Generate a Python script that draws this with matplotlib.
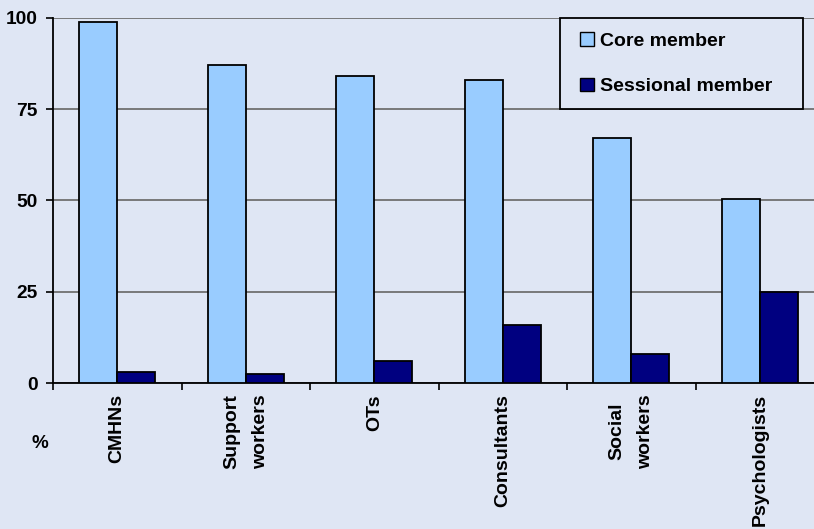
import numpy as np
import matplotlib.pyplot as plt
from matplotlib.patches import Patch, Rectangle

plt.rcParams['font.family'] = ['Liberation Sans', 'DejaVu Sans']

categories = ['CMHNs', 'Support\nworkers', 'OTs', 'Consultants', 'Social\nworkers', 'Psychologists']
core = [99, 87, 84, 83, 67, 50.5]
sessional = [3, 2.5, 6, 16, 8, 25]
yticks = [0, 25, 50, 75, 100]

bg = '#DFE6F4'
core_col = '#99CCFF'
sess_col = '#000080'

fig = plt.figure(figsize=(8.14, 5.29), dpi=100, facecolor=bg)
ax = fig.add_axes([53/814, 146/529, 771/814, 365/529])
ax.set_facecolor(bg)

x = np.arange(len(categories))
w = 0.295
ax.bar(x - w/2, core, w, color=core_col, edgecolor='black', linewidth=1.3, zorder=3)
ax.bar(x + w/2, sessional, w, color=sess_col, edgecolor='black', linewidth=1.3, zorder=3)

ax.set_xlim(-0.5, len(categories) - 0.5)
ax.set_ylim(0, 100)

ax.set_yticks(yticks)
ax.set_yticklabels([str(v) for v in yticks], fontsize=13.8, fontweight='bold')
ax.tick_params(axis='y', length=5, width=1.2, pad=6)
ax.yaxis.grid(True, color='#707070', linewidth=1.3, zorder=0)

ax.set_xticks(np.arange(len(categories) + 1) - 0.5)
ax.set_xticklabels([])
ax.tick_params(axis='x', which='major', length=5, width=1.2)
ax.set_xticks(x, minor=True)
ax.set_xticklabels(categories, minor=True, rotation=90, fontsize=14,
                   fontweight='bold', va='top', ha='center', multialignment='center',
                   linespacing=1.9)
ax.tick_params(axis='x', which='minor', length=0, pad=8)

for s in ['top', 'right']:
    ax.spines[s].set_visible(False)
for s in ['left', 'bottom']:
    ax.spines[s].set_linewidth(1.3)
    ax.spines[s].set_color('black')

fig.text(40/814, 1 - 443/529, '%', fontsize=13.5, fontweight='bold', ha='center', va='center')

# legend box
box = Rectangle((0.658, 0.75), 0.315, 0.25, transform=ax.transAxes,
                facecolor=bg, edgecolor='black', linewidth=1.3, zorder=4, clip_on=False)
ax.add_patch(box)
handles = [Patch(facecolor=core_col, edgecolor='black', linewidth=1.0),
           Patch(facecolor=sess_col, edgecolor='black', linewidth=1.0)]
leg = ax.legend(handles, ['Core member', 'Sessional member'], loc='center left',
                bbox_to_anchor=(0.684, 0.75, 0.29, 0.25), frameon=False,
                prop={'size': 14, 'weight': 'bold'}, handlelength=0.7,
                handleheight=0.7, handletextpad=0.3, labelspacing=1.45,
                borderpad=0, borderaxespad=0)
leg.set_zorder(5)

fig.savefig('out.png', dpi=100, facecolor=bg)
